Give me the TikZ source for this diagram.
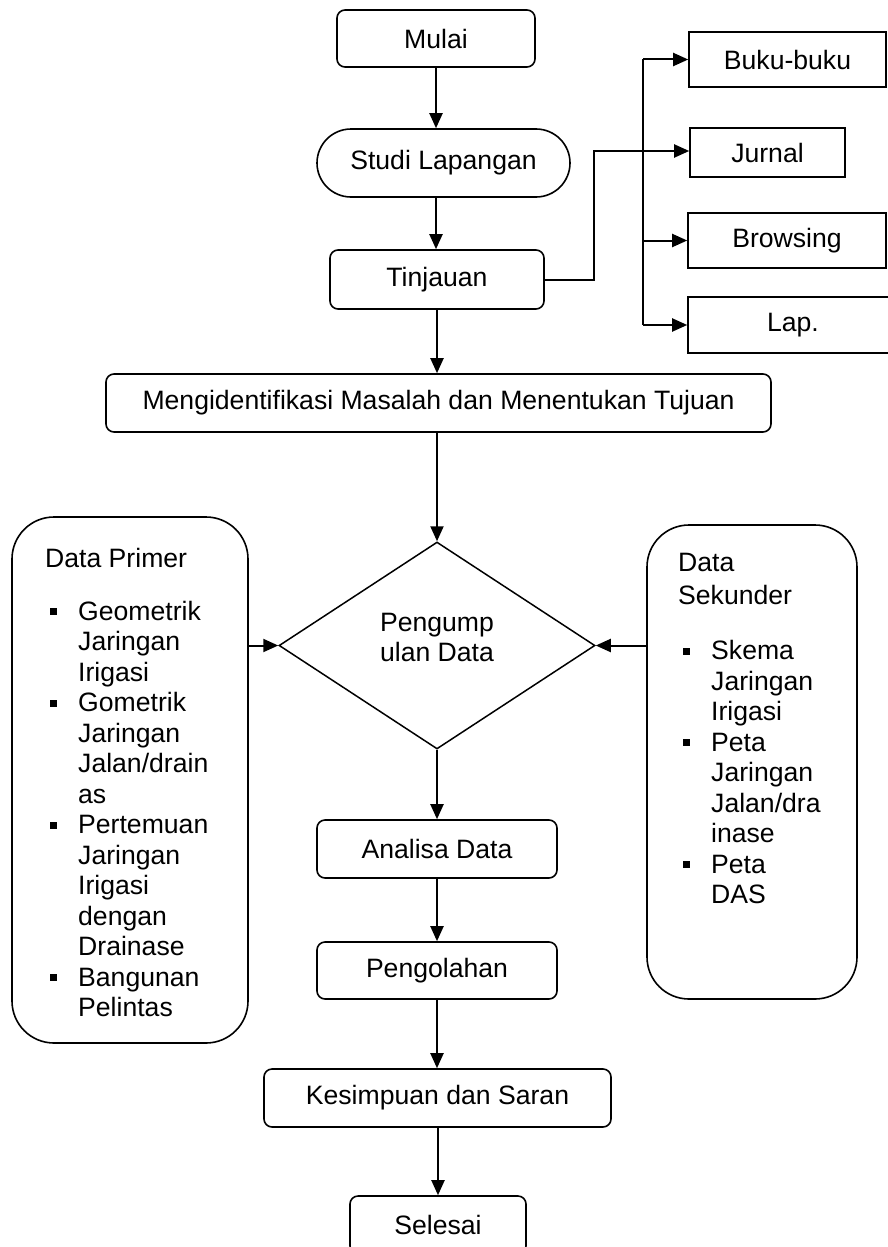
\documentclass[tikz,border=0pt]{standalone}
\usepackage{fontspec}
\setmainfont{Liberation Sans}
\usetikzlibrary{arrows.meta,shapes.geometric}

\newcommand{\bul}[1]{\hspace*{5pt}\makebox[28pt][l]{\rule[5pt]{7pt}{7pt}}#1}
\newcommand{\ind}[1]{\hspace*{33pt}#1}

\begin{document}
\begin{tikzpicture}[x=1pt,y=-1pt,
    font=\fontsize{26.6}{30.5}\selectfont,
    box/.style={draw, line width=1.6pt, rounded corners=8pt, minimum height=58pt, inner sep=0pt},
    src/.style={draw, line width=1.6pt, inner sep=0pt},
    side/.style={draw, line width=1.6pt, rounded corners=42pt, inner sep=0pt},
    arr/.style={line width=2pt, -{Triangle[length=15pt,width=13pt]}},
    link/.style={line width=2pt}]
  \clip (0,0) rectangle (888,1247);
  % main column
  \node[box, minimum width=198pt, minimum height=57pt] (mulai) at (436,38.5) {Mulai};
  \node[box, rounded corners=34pt, minimum width=253pt, minimum height=68pt] (studi) at (443.5,163) {Studi Lapangan};
  \node[box, minimum width=214pt, minimum height=59pt] (tinjauan) at (437,279.5) {Tinjauan};
  \node[box, minimum width=665pt] (masalah) at (438.5,403) {Mengidentifikasi Masalah dan Menentukan Tujuan};
  \node[diamond, draw, line width=1.5pt, minimum width=316pt, minimum height=207pt, inner sep=0pt,
        label={[align=center, yshift=8pt]center:Pengump\\ulan Data}] (kumpul) at (437,645.5) {};
  \node[box, minimum width=240pt] (analisa) at (437,849) {Analisa Data};
  \node[box, minimum width=240pt, minimum height=57pt] (olah) at (437,970.5) {Pengolahan};
  \node[box, minimum width=347pt] (simpul) at (437.5,1098) {Kesimpuan dan Saran};
  \node[box, minimum width=176pt] (selesai) at (438,1225) {Selesai};
  % sumber pustaka
  \node[src, minimum width=197pt, minimum height=55pt] (buku) at (787.5,59.5) {Buku-buku};
  \node[src, minimum width=155pt, minimum height=49pt] (jurnal) at (767.5,152.5) {Jurnal};
  \node[src, minimum width=198pt, minimum height=55pt] (browsing) at (787,240.5) {Browsing};
  \node[src, minimum width=210pt, minimum height=56pt] (lap) at (793,325) {Lap.};
  % data
  \node[side, minimum width=236pt, minimum height=526pt] (primer) at (130,780) {};
  \node[side, minimum width=210pt, minimum height=474pt] (sekunder) at (752,762) {};
  \node[anchor=north west, align=left, inner sep=0pt] (primerlist) at (45,548) {Data Primer\\[22.5pt]
    \bul{Geometrik}\\ \ind{Jaringan}\\ \ind{Irigasi}\\
    \bul{Gometrik}\\ \ind{Jaringan}\\ \ind{Jalan/drain}\\ \ind{as}\\
    \bul{Pertemuan}\\ \ind{Jaringan}\\ \ind{Irigasi}\\ \ind{dengan}\\ \ind{Drainase}\\
    \bul{Bangunan}\\ \ind{Pelintas}};
  \node[anchor=north west, align=left, inner sep=0pt] (sekunderlist) at (678,553) {Data\\[2.5pt] Sekunder\\[24.5pt]
    \bul{Skema}\\ \ind{Jaringan}\\ \ind{Irigasi}\\
    \bul{Peta}\\ \ind{Jaringan}\\ \ind{Jalan/dra}\\ \ind{inase}\\
    \bul{Peta}\\ \ind{DAS}};
  % connectors
  \coordinate (jog) at (594,151);
  \coordinate (bus) at (643,0);
  \draw[arr] (mulai.south) -- (mulai.south |- studi.north);
  \draw[arr] (mulai.south |- studi.south) -- (mulai.south |- tinjauan.north);
  \draw[arr] (tinjauan.east) -| (jog) -- (jog -| jurnal.west);
  \draw[link] (bus |- buku.west) -- (bus |- lap.west);
  \foreach \n in {buku,browsing,lap}
    \draw[arr] (bus |- \n.west) -- (\n.west);
  \draw[arr] (tinjauan.south) -- (tinjauan.south |- masalah.north);
  \draw[arr] (masalah.south -| kumpul.north) -- (kumpul.north);
  \draw[arr] (primer.east |- kumpul.west) -- (kumpul.west);
  \draw[arr] (sekunder.west |- kumpul.east) -- (kumpul.east);
  \draw[arr] (kumpul.south) -- (analisa.north);
  \draw[arr] (analisa.south) -- (olah.north);
  \draw[arr] (olah.south) -- (olah.south |- simpul.north);
  \draw[arr] (simpul.south) -- (simpul.south -| selesai.north) -- (selesai.north);
\end{tikzpicture}
\end{document}
